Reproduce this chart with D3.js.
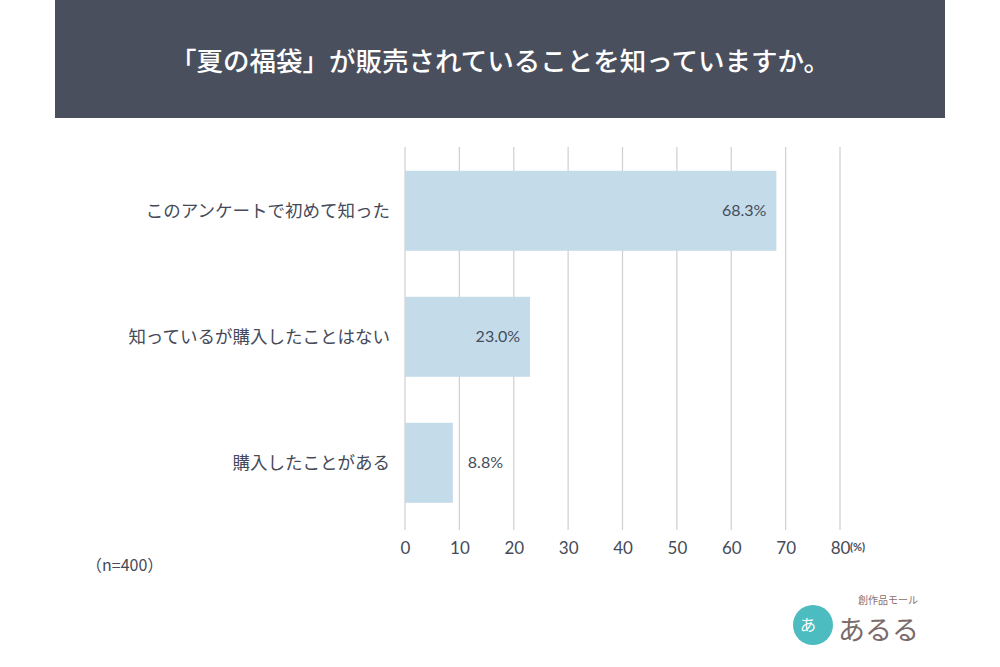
<!DOCTYPE html>
<html>
<head>
<meta charset="utf-8">
<script src="https://cdn.jsdelivr.net/npm/d3@7"></script>
<style>
  body { margin: 0; background: #fff; }
  svg { display: block; font-family: Lato, "Noto Sans CJK JP", sans-serif; }
</style>
</head>
<body>
<div id="root"></div>
<script>
const title = '「夏の福袋」が販売されていることを知っていますか。';
const categories = ['このアンケートで初めて知った', '知っているが購入したことはない', '購入したことがある'];
const values = [68.3, 23.0, 8.8];
const ticks = [0, 10, 20, 30, 40, 50, 60, 70, 80];
const note = '（n=400）';

const svgWidth = 1000;
const svgHeight = 667;

const svg = d3.select('#root')
  .append('svg')
  .attr('width', svgWidth)
  .attr('height', svgHeight);

// header band
svg.append('rect')
  .attr('x', 55).attr('y', 0)
  .attr('width', 890).attr('height', 118)
  .attr('fill', '#4a4f5e');

svg.append('text')
  .attr('x', 500).attr('y', 71)
  .attr('text-anchor', 'middle')
  .attr('fill', '#fff')
  .style('font-family', '"Noto Sans CJK JP", sans-serif')
  .style('font-size', '26.5px')
  .style('font-weight', 500)
  .text(title);

const x = d3.scaleLinear().domain([0, 80]).range([405, 840]);
const y = d3.scaleBand().domain(categories).range([150, 523.6]).paddingInner(0.365).paddingOuter(0.165);

// grid lines
svg.append('g')
  .selectAll('line')
  .data(ticks)
  .join('line')
  .attr('x1', d => x(d)).attr('x2', d => x(d))
  .attr('y1', 147).attr('y2', 530)
  .attr('stroke', '#cfcfcf')
  .attr('stroke-width', 1.2);

// bars
svg.append('g')
  .selectAll('rect')
  .data(values)
  .join('rect')
  .attr('x', x(0))
  .attr('y', (d, i) => y(categories[i]))
  .attr('width', d => x(d) - x(0))
  .attr('height', y.bandwidth())
  .attr('fill', '#c4dcea');

// value labels
svg.append('g')
  .selectAll('text')
  .data(values)
  .join('text')
  .attr('x', d => d > 15 ? x(d) - 10 : x(d) + 15)
  .attr('y', (d, i) => y(categories[i]) + y.bandwidth() / 2)
  .attr('dy', '0.35em')
  .attr('text-anchor', d => d > 15 ? 'end' : 'start')
  .attr('fill', '#454c5b')
  .style('font-size', '16px')
  .text(d => d.toFixed(1) + '%');

// category labels
svg.append('g')
  .selectAll('text')
  .data(categories)
  .join('text')
  .attr('x', 390)
  .attr('y', d => y(d) + y.bandwidth() / 2)
  .attr('dy', '0.35em')
  .attr('text-anchor', 'end')
  .attr('fill', '#454a58')
  .style('font-family', '"Noto Sans CJK JP", sans-serif')
  .style('font-size', '17.5px')
  .text(d => d);

// x axis labels
const axis = svg.append('g')
  .attr('transform', 'translate(0,548)')
  .call(d3.axisBottom(x).tickValues(ticks).tickSize(0).tickPadding(0));
axis.select('.domain').remove();
axis.selectAll('text')
  .attr('dy', '0.35em')
  .attr('fill', '#454a58')
  .style('font-size', '17px')
  .style('font-family', 'Lato, sans-serif');

svg.append('text')
  .attr('x', x(80) + 10).attr('y', 547)
  .attr('dy', '0.35em')
  .attr('fill', '#454a58')
  .style('font-size', '11px')
  .style('font-weight', 'bold')
  .text('(%)');

svg.append('text')
  .attr('x', 86).attr('y', 565)
  .attr('dy', '0.35em')
  .attr('fill', '#454a58')
  .style('font-family', '"Noto Sans CJK JP", sans-serif')
  .style('font-size', '16px')
  .text(note);

// logo
const logo = svg.append('g');
logo.append('circle')
  .attr('cx', 813).attr('cy', 625).attr('r', 20)
  .attr('fill', '#4dbcc0');
logo.append('text')
  .attr('x', 800).attr('y', 631)
  .attr('fill', '#fff')
  .style('font-family', '"Noto Sans CJK JP", sans-serif')
  .style('font-size', '16px')
  .text('あ');
logo.append('text')
  .attr('x', 858).attr('y', 604)
  .attr('fill', '#8a6f6f')
  .style('font-family', '"Noto Sans CJK JP", sans-serif')
  .style('font-size', '10px')
  .text('創作品モール');
logo.append('text')
  .attr('x', 838).attr('y', 640)
  .attr('fill', '#7a6a6a')
  .style('font-family', '"Noto Sans CJK JP", sans-serif')
  .style('font-size', '27px')
  .text('あるる');
</script>
</body>
</html>
